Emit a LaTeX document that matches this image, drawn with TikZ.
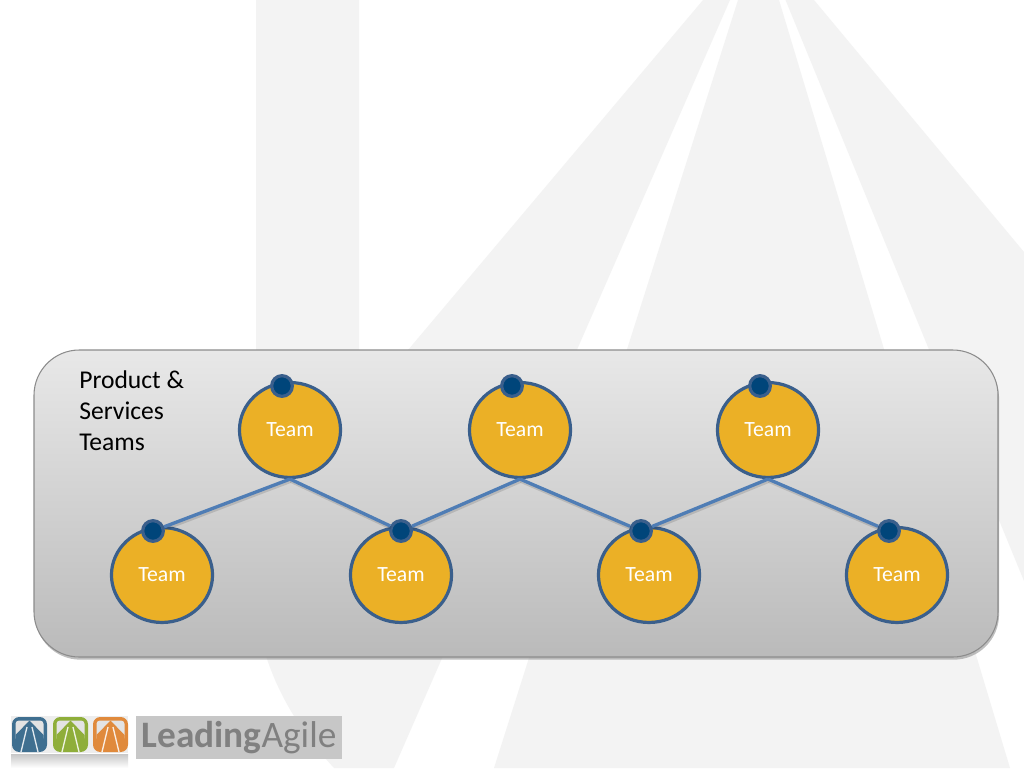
\documentclass[tikz,border=0pt]{standalone}
\usepackage{fontspec}
\setmainfont{Carlito}
\usepackage{xcolor}
\usetikzlibrary{shapes.geometric,shadows,positioning}

\definecolor{backgrey}{HTML}{F3F3F3}
\definecolor{teamfill}{HTML}{EBB026}
\definecolor{teamline}{HTML}{3A5F8C}
\definecolor{portfill}{HTML}{00457A}
\definecolor{linkline}{HTML}{4F7DB5}
\definecolor{logoblue}{HTML}{3F6F90}
\definecolor{logogreen}{HTML}{8FAE3A}
\definecolor{logoorange}{HTML}{E08A3C}

% one logo icon, x is its left edge
\newcommand{\logoicon}[2]{
  \begin{scope}[xshift=#1*0.75pt]
    \fill[#2, rounded corners=5.5pt] (0,717) rectangle (35,752);
    \fill[black!11, rounded corners=2.5pt] (3.5,720.5) rectangle (31.5,741);
    \fill[#2] (17.5,720.5) -- (3.5,735) -- (3.5,743) -- (31.5,743) -- (31.5,735) -- cycle;
    \draw[white!85!#2, line width=1pt] (15,727) -- (9,752);
    \draw[white!85!#2, line width=1pt] (20,727) -- (26,752);
  \end{scope}
}

\begin{document}
\begin{tikzpicture}[x=0.75pt,y=-0.75pt]
    \tikzstyle{team} = [ellipse, draw=teamline, fill=teamfill, line width=2.4pt,
               minimum width=75.8pt, minimum height=71.2pt, inner sep=0pt,
               text=white, font=\fontsize{16.3}{18}\selectfont, align=center]
    \tikzstyle{port} = [circle, draw=teamline, fill=portfill, line width=2.4pt,
               minimum size=15.5pt, inner sep=0pt]
    \tikzstyle{link} = [draw=linkline, line width=2.5pt,
               preaction={draw=black, opacity=0.12, line width=2.5pt,
                 transform canvas={xshift=0.6pt, yshift=-1.6pt}}]
    \tikzstyle{panel} = [rounded corners=34pt, draw=black!45, line width=0.8pt,
               top color=black!9, bottom color=black!27,
               drop shadow={shadow xshift=0.8pt, shadow yshift=-2pt, opacity=0.5}]

    \useasboundingbox (0,0) rectangle (1024,768);
    \fill[white] (0,0) rectangle (1024,768);

    % Background road
    \fill[backgrey] (256,0) -- (359,0) -- (359,408) -- (408,350) -- (703,0) -- (730,0)
      -- (394,768) -- (334,768) .. controls (280,710) and (258,650) .. (256,600) -- cycle;
    \fill[backgrey] (738,0) -- (779,0) -- (1010,768) -- (494,768) -- cycle;
    \fill[backgrey] (785.5,0) -- (814,0) -- (1024,252) -- (1024,581) -- cycle;

    % Panel
    \path[panel] (34,350) rectangle (998,657);
    \node[anchor=north west, align=left, inner sep=0pt, font=\fontsize{19.2}{23.4}\selectfont]
      (title) at (79,370) {Product \&\\Services\\Teams};

    % Teams
    \node[team] (t1) at (290,430) {Team};
    \node[team] (t2) at (520,430) {Team};
    \node[team] (t3) at (768,430) {Team};
    \node[team] (b1) at (162,575) {Team};
    \node[team] (b2) at (401,575) {Team};
    \node[team] (b3) at (649,575) {Team};
    \node[team] (b4) at (897,575) {Team};

    % Ports
    \node[port] (pt1) at (282,386) {};
    \node[port] (pt2) at (512,386) {};
    \node[port] (pt3) at (760,386) {};
    \node[port] (pb1) at (153,531) {};
    \node[port] (pb2) at (401,531) {};
    \node[port] (pb3) at (641,531) {};
    \node[port] (pb4) at (889,531) {};

    % Links
    \draw[link] (t1.south) -- (pb1);
    \draw[link] (t1.south) -- (pb2);
    \draw[link] (t2.south) -- (pb2);
    \draw[link] (t2.south) -- (pb3);
    \draw[link] (t3.south) -- (pb3);
    \draw[link] (t3.south) -- (pb4);

    % Logo
    \fill[black!7] (11,716) rectangle (128,753);
    \fill[top color=black!22, bottom color=white] (11,754) rectangle (128,768);
    \logoicon{12}{logoblue}
    \logoicon{53}{logogreen}
    \logoicon{93}{logoorange}
    \fill[black!22] (136,716) rectangle (342,759);
    \node[text=black!50, inner sep=0pt, font=\fontsize{28}{30}\selectfont] (logo) at (239,737.5)
      {\textbf{Leading}Agile};
  \end{tikzpicture}
\end{document}
